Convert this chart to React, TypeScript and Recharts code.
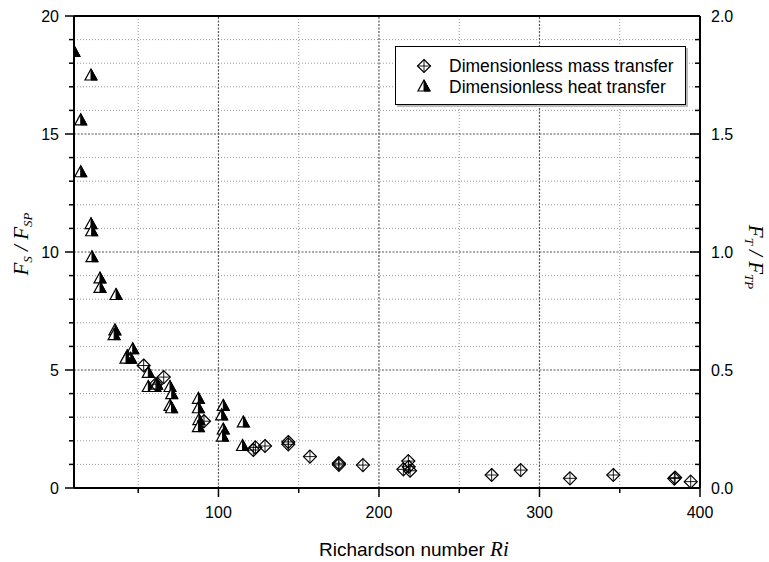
import React from 'react';
import {
  ScatterChart,
  Scatter,
  XAxis,
  YAxis,
  ReferenceLine,
  Legend,
  Label,
} from 'recharts';

// Richardson number and dimensionless mass transfer F_S / F_SP
const massRi = [53.4, 65.9, 61, 91, 121.7, 123, 129, 143.5, 143.5, 157, 175, 175, 190, 215.2, 218.3, 219.4, 218.5, 270.2, 288.3, 319, 346, 384.5, 384, 394.2];
const massRatio = [5.19, 4.7, 4.4, 2.83, 1.61, 1.72, 1.78, 1.95, 1.85, 1.33, 1.05, 0.98, 0.97, 0.79, 1.14, 0.73, 0.9, 0.55, 0.76, 0.41, 0.55, 0.44, 0.4, 0.27];

// Richardson number and dimensionless heat transfer F_T / F_TP (right axis)
const heatRi = [10, 20.6, 14.2, 14.2, 20.6, 21, 21.2, 26.2, 26.2, 36.2, 35.5, 35, 46.6, 43.2, 45.3, 42.4, 56.3, 56.3, 60.5, 61.5, 69.8, 70.9, 69.8, 70.8, 87.5, 87.5, 87.8, 87.5, 103, 102, 103, 102.5, 115.5, 115];
const heatRatio = [1.85, 1.75, 1.56, 1.34, 1.12, 1.09, 0.98, 0.89, 0.85, 0.82, 0.67, 0.65, 0.59, 0.56, 0.55, 0.55, 0.49, 0.43, 0.43, 0.44, 0.43, 0.4, 0.35, 0.34, 0.38, 0.34, 0.29, 0.26, 0.35, 0.31, 0.25, 0.22, 0.28, 0.18];

// Axis ticks
const xTicks = [50, 100, 150, 200, 250, 300, 350, 400];
const leftTicks = [0, 1, 2, 3, 4, 5, 6, 7, 8, 9, 10, 11, 12, 13, 14, 15, 16, 17, 18, 19, 20];
const rightTicks = [0, 0.1, 0.2, 0.3, 0.4, 0.5, 0.6, 0.7, 0.8, 0.9, 1.0, 1.1, 1.2, 1.3, 1.4, 1.5, 1.6, 1.7, 1.8, 1.9, 2.0];

// Grid lines
const xGridMajor = [100, 200, 300];
const xGridMinor = [50, 150, 250, 350];
const yGridMajor = [5, 10, 15];
const yGridMinor = [1, 2, 3, 4, 6, 7, 8, 9, 11, 12, 13, 14, 16, 17, 18, 19];

const massData = massRi.map((ri, i) => ({ ri, v: massRatio[i] }));
const heatData = heatRi.map((ri, i) => ({ ri, v: heatRatio[i] }));

const SANS = '"Liberation Sans", Arial, sans-serif';
const SERIF = '"Liberation Serif", "Times New Roman", serif';

const CrossDiamond = ({ cx, cy }: { cx: number; cy: number }) => {
  const r = 6.5;
  return (
    <g stroke="#000" strokeWidth={1.2} fill="none">
      <path d={`M${cx},${cy - r}L${cx + r},${cy}L${cx},${cy + r}L${cx - r},${cy}Z`} />
      <path d={`M${cx - r},${cy}H${cx + r}M${cx},${cy - r}V${cy + r}`} strokeWidth={0.9} />
    </g>
  );
};

const HalfTriangle = ({ cx, cy }: { cx: number; cy: number }) => {
  const w = 6;
  const top = cy - 6;
  const bot = cy + 5;
  return (
    <g>
      <path d={`M${cx},${top}L${cx + w},${bot}L${cx - w},${bot}Z`} fill="#fff" stroke="#000" strokeWidth={1.2} strokeLinejoin="miter" />
      <path d={`M${cx},${top}L${cx + w},${bot}L${cx},${bot}Z`} fill="#000" stroke="#000" strokeWidth={1} />
    </g>
  );
};

const LeftTick = (props: any) => {
  const { x, y, payload } = props;
  const v = payload.value;
  const major = v % 5 === 0;
  return (
    <g>
      <line x1={x - (major ? 9 : 5)} x2={x} y1={y} y2={y} stroke="#000" strokeWidth={1.5} />
      {major && (
        <text x={x - 15} y={y} dy="0.36em" textAnchor="end" fontSize={16} fontFamily={SANS} fill="#000">
          {v}
        </text>
      )}
    </g>
  );
};

const RightTick = (props: any) => {
  const { x, y, payload } = props;
  const v = payload.value;
  const major = Math.abs(v * 2 - Math.round(v * 2)) < 1e-9;
  return (
    <g>
      <line x1={x - (major ? 10 : 5)} x2={x} y1={y} y2={y} stroke="#000" strokeWidth={1.5} />
      {major && (
        <text x={x + 11} y={y} dy="0.36em" textAnchor="start" fontSize={16} fontFamily={SANS} fill="#000">
          {v.toFixed(1)}
        </text>
      )}
    </g>
  );
};

const BottomTick = (props: any) => {
  const { x, y, payload } = props;
  const v = payload.value;
  const major = v % 100 === 0;
  return (
    <g>
      <line x1={x} x2={x} y1={y} y2={y + (major ? 9 : 5)} stroke="#000" strokeWidth={1.5} />
      {major && (
        <text x={x} y={y + 30} textAnchor="middle" fontSize={16} fontFamily={SANS} fill="#000">
          {v}
        </text>
      )}
    </g>
  );
};

const LegendBox = () => (
  <div
    style={{
      width: 289,
      height: 57,
      border: '1.3px solid #000',
      background: '#fff',
      boxShadow: '2px 2px 0 #bbb',
      position: 'relative',
      fontFamily: SANS,
      fontSize: 17.5,
      color: '#000',
    }}
  >
    <svg width={289} height={57} style={{ position: 'absolute', left: 0, top: 0 }}>
      <CrossDiamond cx={28} cy={19} />
      <HalfTriangle cx={28} cy={39} />
      <text x={53} y={25} fontSize={17.5} fontFamily={SANS}>Dimensionless mass transfer</text>
      <text x={53} y={46} fontSize={17.5} fontFamily={SANS}>Dimensionless heat transfer</text>
    </svg>
  </div>
);

const LeftTitle = (props: any) => {
  const { viewBox } = props;
  const cy = viewBox.y + viewBox.height / 2 - 8;
  const bx = 28;
  return (
    <text transform={`translate(${bx},${cy}) rotate(-90)`} textAnchor="middle" fontFamily={SERIF} fontStyle="italic" fontSize={21} fill="#000">
      <tspan>F</tspan>
      <tspan fontSize={13} dy={4}>S</tspan>
      <tspan dy={-4}> / F</tspan>
      <tspan fontSize={13} dy={4}>SP</tspan>
    </text>
  );
};

const RightTitle = (props: any) => {
  const { viewBox } = props;
  const cy = viewBox.y + viewBox.height / 2 + 5;
  const bx = 749;
  return (
    <text transform={`translate(${bx},${cy}) rotate(90)`} textAnchor="middle" fontFamily={SERIF} fontStyle="italic" fontSize={21} fill="#000">
      <tspan>F</tspan>
      <tspan fontSize={13} dy={4}>T</tspan>
      <tspan dy={-4}> / F</tspan>
      <tspan fontSize={13} dy={4}>TP</tspan>
    </text>
  );
};

const BottomTitle = (props: any) => {
  const { viewBox } = props;
  return (
    <text x={viewBox.x + 245} y={viewBox.y + 68} fontFamily={SANS} fontSize={19} fill="#000">
      Richardson number{' '}
      <tspan fontFamily={SERIF} fontStyle="italic" fontSize={21}>Ri</tspan>
    </text>
  );
};

export default function App() {
  return (
    <div style={{ position: 'absolute', left: 0, top: 0, background: '#fff' }}>
      <ScatterChart width={769} height={562} margin={{ top: 16, right: 0, bottom: 0, left: 0 }}>
        {xGridMinor.map((v) => (
          <ReferenceLine key={`xm${v}`} x={v} xAxisId="ri" yAxisId="left" stroke="#999" strokeWidth={1} strokeDasharray="1 2" />
        ))}
        {yGridMinor.map((v) => (
          <ReferenceLine key={`ym${v}`} y={v} xAxisId="ri" yAxisId="left" stroke="#999" strokeWidth={1} strokeDasharray="1 2" />
        ))}
        {xGridMajor.map((v) => (
          <ReferenceLine key={`xM${v}`} x={v} xAxisId="ri" yAxisId="left" stroke="#555" strokeWidth={1.2} strokeDasharray="2 1.5" />
        ))}
        {yGridMajor.map((v) => (
          <ReferenceLine key={`yM${v}`} y={v} xAxisId="ri" yAxisId="left" stroke="#555" strokeWidth={1.2} strokeDasharray="2 1.5" />
        ))}
        <ReferenceLine y={20} xAxisId="ri" yAxisId="left" stroke="#000" strokeWidth={2} />
        <XAxis
          xAxisId="ri"
          dataKey="ri"
          type="number"
          domain={[10, 400]}
          ticks={xTicks}
          interval={0}
          height={74}
          tickSize={0}
          tickMargin={0}
          tick={<BottomTick />}
          axisLine={{ stroke: '#000', strokeWidth: 2 }}
          allowDataOverflow
        >
          <Label content={<BottomTitle />} />
        </XAxis>
        <YAxis
          yAxisId="left"
          dataKey="v"
          type="number"
          domain={[0, 20]}
          ticks={leftTicks}
          interval={0}
          width={74}
          tickSize={0}
          tickMargin={0}
          tick={<LeftTick />}
          axisLine={{ stroke: '#000', strokeWidth: 2 }}
          allowDataOverflow
        >
          <Label content={<LeftTitle />} />
        </YAxis>
        <YAxis
          yAxisId="right"
          orientation="right"
          dataKey="v"
          type="number"
          domain={[0, 2]}
          ticks={rightTicks}
          interval={0}
          width={69}
          tickSize={0}
          tickMargin={0}
          tick={<RightTick />}
          axisLine={{ stroke: '#000', strokeWidth: 2 }}
          allowDataOverflow
        >
          <Label content={<RightTitle />} />
        </YAxis>
        <Legend
          layout="horizontal"
          verticalAlign="middle"
          align="center"
          content={<LegendBox />}
          wrapperStyle={{ left: 395, top: 46, width: 291, height: 59 }}
        />
        <Scatter
          name="Dimensionless heat transfer"
          data={heatData}
          xAxisId="ri"
          yAxisId="right"
          isAnimationActive={false}
          shape={(p: any) => <HalfTriangle cx={p.cx} cy={p.cy} />}
        />
        <Scatter
          name="Dimensionless mass transfer"
          data={massData}
          xAxisId="ri"
          yAxisId="left"
          isAnimationActive={false}
          shape={(p: any) => <CrossDiamond cx={p.cx} cy={p.cy} />}
        />
      </ScatterChart>
    </div>
  );
}
